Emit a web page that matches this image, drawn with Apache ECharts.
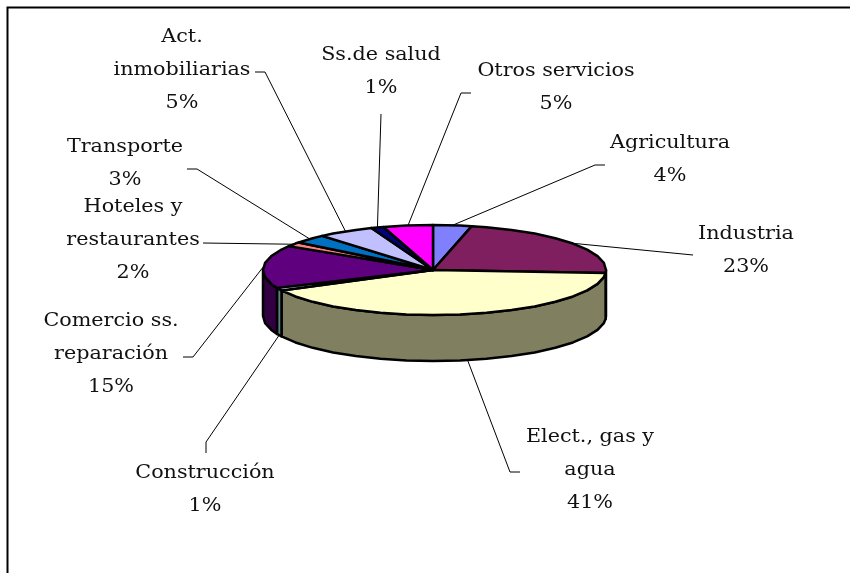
<!DOCTYPE html>
<html><head><meta charset="utf-8">
<style>html,body{margin:0;padding:0;background:#fff}#c{width:850px;height:573px}</style>
<script src="https://cdn.jsdelivr.net/npm/echarts@6/dist/echarts.min.js"></script>
</head><body><div id="c"></div>
<script>
const categories = ['Agricultura','Industria','Elect., gas y\nagua','Construcción','Comercio ss.\nreparación','Hoteles y\nrestaurantes','Transporte','Act.\ninmobiliarias','Ss.de salud','Otros servicios'];
const values = [3.6,22.5,41.4,1.0,15.4,1.6,3.2,5.4,1.2,4.7];
const topColors = ['#8080FF','#7F1F5F','#FFFFCC','#CCFFFF','#5F007F','#FF8080','#0070C0','#C0C0FF','#000080','#FF00FF'];
const sideColors = ['#404080','#40102F','#808060','#608080','#300040','#804040','#003860','#606080','#000040','#800080'];
// layout: label centre and leader-line elbows
const labelPos = [[670,160],[746,251],[590,470],[205,490],[111,354],[133,240],[125,164],[182,70],[381,72],[556,88]];
const elbows = [[[595,165],[605,165]],[[693,255]],[[510,472],[520,472]],[[206,442],[206,453]],[[193,357],[183,357]],[[203,243]],[[197,169],[187,169]],[[265,72],[255,72]],[[381,114]],[[461,93],[471,93]]];
const CX=433, CY=270, RX_R=173, RX_L=170, RY=45, DEPTH=46, STEP=9, TEXT_STRETCH=1.15;
const total = values.reduce((a,b)=>a+b,0);
const starts=[]; values.reduce((a,v,i)=>{starts[i]=a/total*360;return a+v;},0);
const pt=(deg,dy=0)=>{const r=deg*Math.PI/180,s=Math.sin(r);return [CX+(s>0?RX_R:RX_L)*s,CY-RY*Math.cos(r)+dy];};
function arc(a,b){const p=[pt(a)];for(let d=Math.ceil(a/STEP+1e-6)*STEP;d<b-1e-6;d+=STEP)p.push(pt(d));p.push(pt(b));return p;}
const stroke={stroke:'#000',lineWidth:2.5,lineJoin:'round'};
const chart=echarts.init(document.getElementById('c'),null,{renderer:'canvas'});
chart.setOption({
  animation:false,
  backgroundColor:'#fff',
  graphic:[{type:'polyline',silent:true,shape:{points:[[7.5,573],[7.5,7.5],[850,7.5]]},style:{stroke:'#000',lineWidth:2,fill:null}}],
  series:[
    {type:'custom',coordinateSystem:'none',silent:true,z:2,data:values,
     renderItem(params,api){
       const i=params.dataIndex,a=starts[i],b=a+api.value(0)/total*360;
       const s=Math.max(a,90),e=Math.min(b,270);
       if(e<=s) return {type:'group',children:[]};
       const up=arc(s,e),down=up.map(p=>[p[0],p[1]+DEPTH]).reverse();
       return {type:'polygon',shape:{points:up.concat(down)},style:Object.assign({fill:sideColors[i]},stroke)};
     }},
    {type:'custom',coordinateSystem:'none',silent:true,z:3,data:values,
     renderItem(params,api){
       const i=params.dataIndex,a=starts[i],b=a+api.value(0)/total*360;
       return {type:'polygon',shape:{points:[[CX,CY]].concat(arc(a,b))},style:Object.assign({fill:topColors[i]},stroke)};
     }},
    {type:'custom',coordinateSystem:'none',silent:true,z:4,data:values,
     renderItem(params,api){
       const i=params.dataIndex,a=starts[i],b=a+api.value(0)/total*360,m=(a+b)/2;
       const anchor=pt(m,(m>90&&m<270)?DEPTH:0);
       return {type:'group',children:[
         {type:'polyline',shape:{points:[anchor].concat(elbows[i])},style:{stroke:'#000',lineWidth:1,fill:null}},
         {type:'text',x:labelPos[i][0],y:labelPos[i][1],scaleX:TEXT_STRETCH,style:{text:categories[i]+'\n'+Math.round(api.value(0))+'%',align:'center',verticalAlign:'middle',lineHeight:33,font:'18px "DejaVu Serif"',fill:'#111'}}
       ]};
     }}
  ]
});
</script></body></html>
